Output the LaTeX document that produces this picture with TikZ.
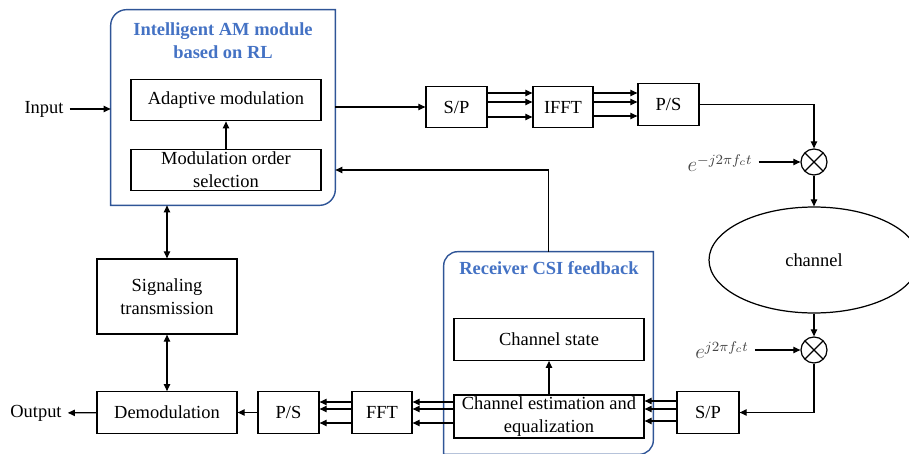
\documentclass[tikz,border=0pt]{standalone}
\usepackage{fontspec}
\setmainfont{Liberation Serif}
\usetikzlibrary{shapes.geometric, arrows.meta, calc}
\definecolor{rlblue}{RGB}{68,114,196}
\definecolor{frameblue}{RGB}{47,85,151}
\definecolor{expgray}{RGB}{70,70,70}

\begin{document}
\begin{tikzpicture}[x=0.02cm, y=-0.02cm,
        >={Triangle[length=4pt,width=3.6pt]},
        every node/.style={font=\fontsize{10.5}{13}\selectfont},
        box/.style={draw, line width=0.7pt, inner sep=1pt, align=center, minimum height=0.83cm},
        title/.style={text=rlblue, font=\fontsize{10.5}{13}\selectfont\bfseries, align=center},
        frame/.style={inner sep=0pt, minimum width=#1},
        frameline/.style={draw=frameblue, line width=0.8pt},
        expo/.style={text=expgray, font=\fontsize{11.5}{13}\selectfont},
        mixer/.style={draw, circle, line width=0.7pt, minimum size=0.52cm,
            path picture={\draw[line width=0.7pt] (path picture bounding box.north west) -- (path picture bounding box.south east)
                (path picture bounding box.north east) -- (path picture bounding box.south west);}},
        arr/.style={->, line width=0.7pt},
        dbl/.style={<->, line width=0.7pt}]
    \useasboundingbox (0,0) rectangle (909,453);

    % transmitter side
    \node[frame=4.48cm, minimum height=3.9cm] (am) at (223,107.5) {};
    \draw[frameline] (am.south west) [rounded corners=9pt] -- (am.north west) [sharp corners] -- (am.north east) [rounded corners=9pt] -- (am.south east) [sharp corners] -- cycle;
    \node[title] (amtitle) at (223,41) {Intelligent AM module\\based on RL};
    \node[box, minimum width=3.8cm] (adapt) at (226,100) {Adaptive modulation};
    \node[box, minimum width=3.8cm] (mos) at (226,170) {Modulation order\\selection};
    \node (in) at (44,109) {Input};
    \node[box, minimum width=1.22cm] (sp1) at (456.5,107) {S/P};
    \node[box, minimum width=1.2cm] (ifft) at (563,107) {IFFT};
    \node[box, minimum width=1.22cm] (ps1) at (668.5,104.5) {P/S};

    % channel
    \node[mixer] (mix1) at (814,162) {};
    \node[expo] (exp1) at (720,163) {$e^{-j2\pi f_c t}$};
    \node[draw, ellipse, line width=0.7pt, minimum width=4.2cm, minimum height=2.12cm] (chan) at (814,260) {channel};
    \node[mixer] (mix2) at (814,350) {};
    \node[expo] (exp2) at (722,350) {$e^{j2\pi f_c t}$};

    % receiver side
    \node[frame=4.18cm, minimum height=4.04cm] (rx) at (548.5,353) {};
    \draw[frameline] (rx.south west) [rounded corners=8pt] -- (rx.north west) [sharp corners] -- (rx.north east) [rounded corners=8pt] -- (rx.south east) [sharp corners] -- cycle;
    \node[title] (rxtitle) at (549,268) {Receiver CSI feedback};
    \node[box, minimum width=3.8cm] (cst) at (549,339.5) {Channel state};
    \node[box, minimum width=3.8cm] (cee) at (549,416.5) {Channel estimation and\\equalization};
    \node[box, minimum width=1.24cm] (sp2) at (708,412.5) {S/P};
    \node[box, minimum width=1.2cm] (fft) at (382,412.5) {FFT};
    \node[box, minimum width=1.22cm] (ps2) at (288.5,412.5) {P/S};
    \node[box, minimum width=2.8cm] (demod) at (167,412.5) {Demodulation};
    \node[box, minimum width=2.8cm, minimum height=1.5cm] (sig) at (167,296.5) {Signaling\\transmission};
    \node (out) at (36,413) {Output};

    % connectors
    \draw[arr] (in) -- (in -| am.west);
    \draw[arr] (mos) -- (adapt);
    \draw[arr] (am.east |- sp1) -- (sp1.west);
    \foreach \y in {93,102,117}
        \draw[arr] (sp1.east |- 0,\y) -- (ifft.west |- 0,\y);
    \foreach \y in {93,102,116}
        \draw[arr] (ifft.east |- 0,\y) -- (ps1.west |- 0,\y);
    \draw[arr] (ps1.east) -| (mix1.north);
    \draw[arr] (exp1.east |- mix1) -- (mix1.west);
    \draw[arr] (mix1) -- (chan);
    \draw[arr] (chan) -- (mix2);
    \draw[arr] (exp2.east |- mix2) -- (mix2.west);
    \draw[arr] (mix2.south) |- (sp2.east);
    \foreach \y in {401,409,421}
        \draw[arr] (sp2.west |- 0,\y) -- (cee.east |- 0,\y);
    \draw[arr] (cee) -- (cst);
    \foreach \y in {402,409,423} {
        \draw[arr] (cee.west |- 0,\y) -- (fft.east |- 0,\y);
        \draw[arr] (fft.west |- 0,\y) -- (ps2.east |- 0,\y);
    }
    \draw[arr] (ps2) -- (demod);
    \draw[arr] (demod) -- (out);
    \draw[arr] (rx.north) |- (am.east |- mos);
    \draw[dbl] (sig.north) -- (sig.north |- am.south);
    \draw[dbl] (sig) -- (demod);
\end{tikzpicture}
\end{document}
